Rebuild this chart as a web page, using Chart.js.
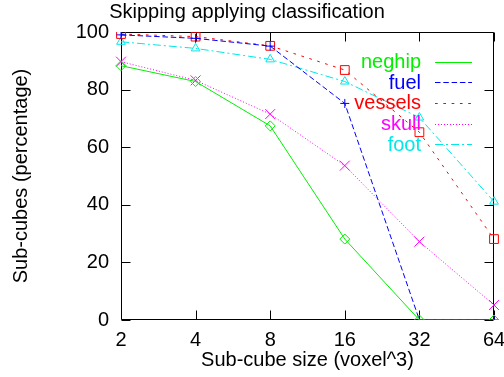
<!DOCTYPE html>
<html>
<head>
<meta charset="utf-8">
<script src="https://cdn.jsdelivr.net/npm/chart.js@4"></script>
<style>
html,body{margin:0;padding:0;background:#fff;}
#wrap{width:504px;height:377px;position:relative;}
</style>
</head>
<body>
<div id="wrap"><canvas id="c" width="504" height="377"></canvas></div>
<script>
const categories = ["2", "4", "8", "16", "32", "64"];
const yTicks = [0, 20, 40, 60, 80, 100];
const neghip  = [88.3, 82.8, 67.4, 28.1, 0, 0];
const fuel    = [99.0, 97.8, 95.1, 75.2, 0, 0];
const vessels = [99.3, 98.4, 95.2, 86.8, 65.2, 28.1];
const skull   = [89.7, 83.2, 71.5, 53.6, 27.2, 5.2];
const foot    = [96.6, 94.3, 90.5, 82.8, 70.3, 41.1];

const seriesNames = ['neghip', 'fuel', 'vessels', 'skull', 'foot'];
const seriesColors = ['#00f000', '#0000ff', '#ff0000', '#ff00ff', '#00e8e8'];
const seriesDashes = [[], [5.5, 2.8], [2.7, 5.6], [1, 2], [8, 3, 2, 3]];

const FONT = "'Liberation Sans', Arial, Helvetica, sans-serif";

function ds(i, data, pstyle, prad) {
  const color = seriesColors[i];
  return {
    label: seriesNames[i], data,
    borderColor: color, backgroundColor: 'rgba(0,0,0,0)',
    borderWidth: 1, borderDash: seriesDashes[i],
    pointStyle: pstyle, pointRadius: prad, pointHoverRadius: prad,
    pointBorderColor: color, pointBackgroundColor: 'rgba(0,0,0,0)',
    pointBorderWidth: 1, tension: 0, fill: false
  };
}

const frameTicks = {
  id: 'frameTicks',
  beforeDatasetsDraw(chart) {
    const {ctx, chartArea: a, scales} = chart;
    ctx.save();
    ctx.strokeStyle = '#000';
    ctx.lineWidth = 1;
    ctx.setLineDash([]);
    const L = Math.round(a.left) + 0.5, R = Math.round(a.right) - 0.5;
    const T = Math.round(a.top) + 0.5, B = Math.round(a.bottom) - 0.5;
    ctx.beginPath();
    ctx.rect(L, T, R - L, B - T);
    const tl = 9;
    yTicks.forEach(v => {
      const y = Math.round(scales.y.getPixelForValue(v)) + 0.5;
      ctx.moveTo(L, y); ctx.lineTo(L + tl, y);
      ctx.moveTo(R, y); ctx.lineTo(R - tl, y);
    });
    categories.forEach((c, i) => {
      const x = Math.round(scales.x.getPixelForValue(i)) + 0.5;
      ctx.moveTo(x, B); ctx.lineTo(x, B - tl);
      ctx.moveTo(x, T); ctx.lineTo(x, T + tl);
    });
    ctx.stroke();
    ctx.restore();
  }
};

const customLegend = {
  id: 'customLegend',
  afterDraw(chart) {
    const ctx = chart.ctx;
    seriesNames.forEach((name, i) => {
      const y = 61.7 + i * 20.6;
      ctx.save();
      ctx.font = "20px " + FONT;
      ctx.textAlign = 'right';
      ctx.textBaseline = 'middle';
      ctx.fillStyle = seriesColors[i];
      ctx.fillText(name, 421, y + 1);
      const x0 = 435, x1 = 472, yy = Math.round(y);
      const pat = seriesDashes[i];
      if (!pat.length) {
        ctx.fillRect(x0, yy, x1 - x0, 1);
      } else {
        let x = x0, k = 0;
        while (x < x1) {
          const len = pat[k % pat.length];
          if (k % 2 === 0) ctx.fillRect(x, yy, Math.min(len, x1 - x), 1);
          x += len; k++;
        }
      }
      ctx.restore();
    });
  }
};

new Chart(document.getElementById('c'), {
  type: 'line',
  data: {
    labels: categories,
    datasets: [
      ds(0, neghip, 'rectRot', 5),
      ds(1, fuel, 'cross', 4.5),
      ds(2, vessels, 'rect', 6.2),
      ds(3, skull, 'crossRot', 7),
      ds(4, foot, 'triangle', 5)
    ]
  },
  options: {
    responsive: false,
    animation: false,
    events: [],
    layout: { padding: { top: 0, right: 10, bottom: 0, left: 0 } },
    plugins: {
      legend: { display: false },
      tooltip: { enabled: false },
      title: {
        display: true,
        text: 'Skipping applying classification',
        color: '#000',
        font: { family: FONT, size: 20, weight: 'normal' },
        padding: { top: 0, bottom: 8 }
      }
    },
    scales: {
      x: {
        type: 'category',
        offset: false,
        grid: { display: false, drawTicks: false },
        border: { display: false },
        ticks: {
          color: '#000', padding: 8, maxRotation: 0, autoSkip: false,
          font: { family: FONT, size: 20 }
        },
        title: {
          display: true, text: 'Sub-cube size (voxel^3)', color: '#000',
          font: { family: FONT, size: 20 },
          padding: { top: 0, bottom: 5 }
        },
        afterFit(s) { s.height = 57; s.paddingLeft = 0; s.paddingRight = 0; }
      },
      y: {
        min: 0, max: 100,
        grid: { display: false, drawTicks: false },
        border: { display: false },
        afterBuildTicks(s) { s.ticks = yTicks.map(v => ({ value: v })); },
        ticks: {
          color: '#000', padding: 12,
          font: { family: FONT, size: 20 }
        },
        title: {
          display: true, text: 'Sub-cubes (percentage)', color: '#000',
          font: { family: FONT, size: 20 },
          padding: { top: 9, bottom: 0 }
        },
        afterFit(s) { s.width = 121; s.paddingTop = 0; s.paddingBottom = 0; }
      }
    }
  },
  plugins: [frameTicks, customLegend]
});
</script>
</body>
</html>
